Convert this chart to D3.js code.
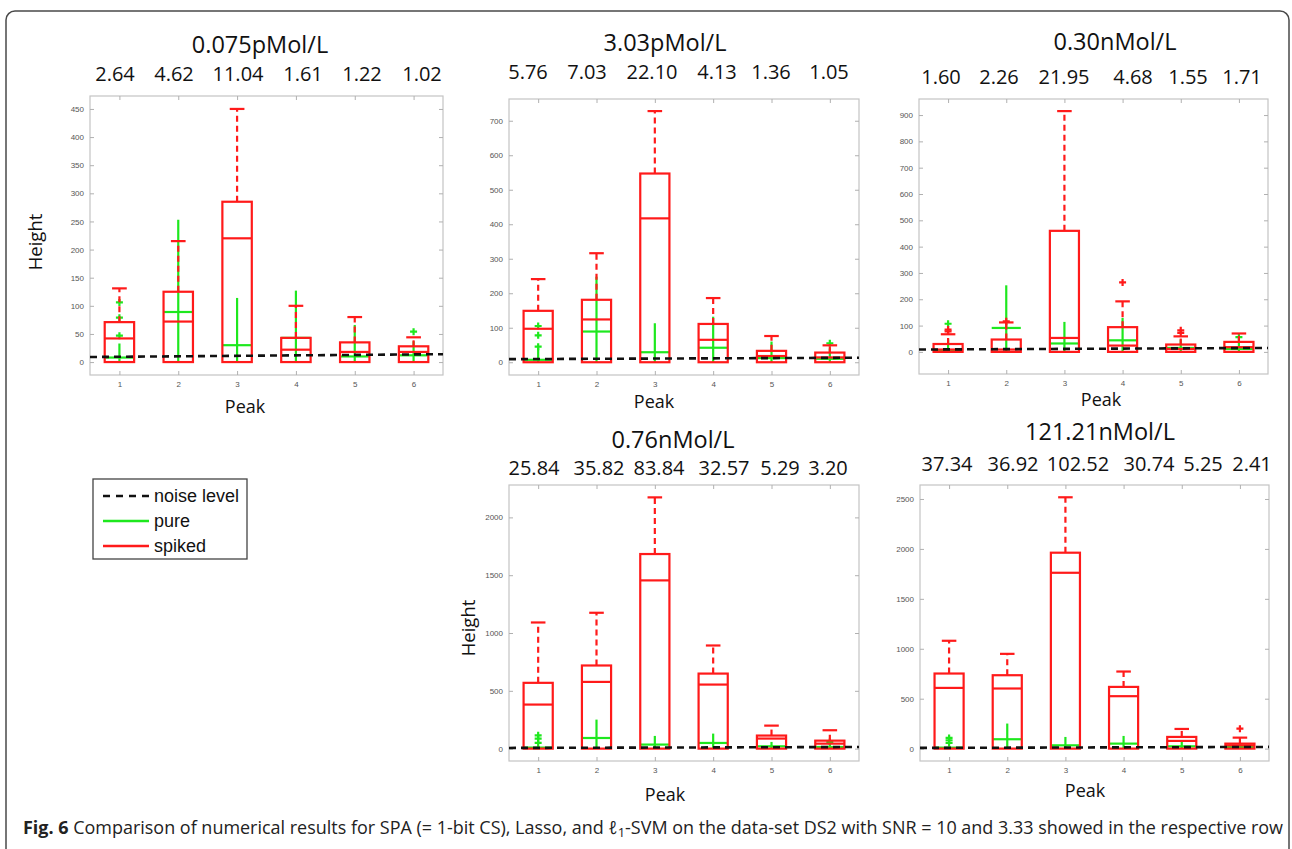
<!DOCTYPE html>
<html lang="en">
<head>
<meta charset="UTF-8">
<title>Fig. 6</title>
<script src="https://cdn.jsdelivr.net/npm/d3@7/dist/d3.min.js"></script>
<style>
  body { margin: 0; background: #fff; }
  svg { display: block; }
</style>
</head>
<body>
<svg id="svg"></svg>
<script>
var WIDTH = 1292;
var HEIGHT = 849;
var RED = "#ff1a1a";
var GREEN = "#1ee81e";

var peaks = [1, 2, 3, 4, 5, 6];

// spiked rows: [q1, median, q3, upper whisker]
// pure rows:   [median, upper whisker]
// outliers:    [peak, value]

// 0.075pMol/L
var titleA = "0.075pMol/L";
var ratiosA = ["2.64", "4.62", "11.04", "1.61", "1.22", "1.02"];
var spikedA = [[0, 42, 71, 131], [0, 72, 125, 215], [0, 220, 285, 450], [0, 22, 43, 100], [0, 18, 35, 80], [0, 18, 28, 44]];
var pureA = [[8, 33], [89, 253], [30, 114], [43, 127], [10, 66], [12, 37]];
var spikedOutA = [];
var pureOutA = [[1, 47], [1, 79], [1, 106], [6, 54]];
var noiseA = [9, 14];

// 3.03pMol/L
var titleB = "3.03pMol/L";
var ratiosB = ["5.76", "7.03", "22.10", "4.13", "1.36", "1.05"];
var spikedB = [[0, 97, 149, 241], [0, 124, 181, 316], [0, 417, 547, 728], [0, 65, 111, 186], [0, 18, 33, 76], [0, 14, 28, 49]];
var pureB = [[7, 41], [89, 248], [29, 113], [42, 132], [12, 60], [10, 40]];
var spikedOutB = [];
var pureOutB = [[1, 45], [1, 78], [1, 105], [6, 55]];
var noiseB = [9, 13];

// 0.30nMol/L
var titleC = "0.30nMol/L";
var ratiosC = ["1.60", "2.26", "21.95", "4.68", "1.55", "1.71"];
var spikedC = [[0, 9, 30, 67], [0, 9, 47, 112], [0, 53, 460, 915], [0, 24, 94, 192], [0, 11, 28, 59], [0, 18, 38, 70]];
var pureC = [[5, 47], [91, 253], [32, 114], [44, 129], [15, 47], [11, 40]];
var spikedOutC = [[1, 78], [1, 85], [2, 116], [4, 264], [5, 72], [5, 82]];
var pureOutC = [[1, 107], [6, 56]];
var noiseC = [9, 15];

// 0.76nMol/L
var titleD = "0.76nMol/L";
var ratiosD = ["25.84", "35.82", "83.84", "32.57", "5.29", "3.20"];
var spikedD = [[0, 381, 569, 1091], [0, 577, 719, 1175], [0, 1455, 1683, 2173], [0, 554, 649, 892], [0, 87, 113, 199], [0, 43, 69, 159]];
var pureD = [[9, 20], [92, 251], [35, 110], [49, 130], [20, 58], [14, 40]];
var spikedOutD = [];
var pureOutD = [[1, 49], [1, 87], [1, 115], [6, 58]];
var noiseD = [6, 14];

// 121.21nMol/L
var titleE = "121.21nMol/L";
var ratiosE = ["37.34", "36.92", "102.52", "30.74", "5.25", "2.41"];
var spikedE = [[0, 608, 752, 1080], [0, 602, 735, 949], [0, 1761, 1962, 2517], [0, 525, 618, 772], [0, 77, 117, 197], [0, 33, 50, 110]];
var pureE = [[10, 20], [94, 251], [33, 117], [50, 127], [23, 67], [17, 40]];
var spikedOutE = [[6, 200]];
var pureOutE = [[1, 57], [1, 84], [1, 107]];
var noiseE = [7, 17];

var legendLabels = ["noise level", "pure", "spiked"];

// panel placement (the ratio row was typed by hand in the original, so its spacing is uneven)
var panels = [
    {title: titleA, ratios: ratiosA, spiked: spikedA, pure: pureA, spikedOut: spikedOutA, pureOut: pureOutA, noise: noiseA,
     yDomain: [-23, 473], yStep: 50, x0: 90, x1: 443, y0: 96, y1: 375,
     titleX: 260, titleY: 45, ratioY: 74, ratioX: [115, 174, 238, 303, 362, 422], peakX: 245, peakY: 407, heightX: 35, heightY: 242},
    {title: titleB, ratios: ratiosB, spiked: spikedB, pure: pureB, spikedOut: spikedOutB, pureOut: pureOutB, noise: noiseB,
     yDomain: [-37, 763], yStep: 100, x0: 509, x1: 859, y0: 99, y1: 375,
     titleX: 665, titleY: 43, ratioY: 72, ratioX: [528, 587, 652, 717, 771, 829], peakX: 654, peakY: 402},
    {title: titleC, ratios: ratiosC, spiked: spikedC, pure: pureC, spikedOut: spikedOutC, pureOut: pureOutC, noise: noiseC,
     yDomain: [-84, 961], yStep: 100, x0: 919, x1: 1268, y0: 99, y1: 374,
     titleX: 1115, titleY: 42, ratioY: 77, ratioX: [941, 999, 1064, 1133, 1188, 1242], peakX: 1101, peakY: 400},
    {title: titleD, ratios: ratiosD, spiked: spikedD, pure: pureD, spikedOut: spikedOutD, pureOut: pureOutD, noise: noiseD,
     yDomain: [-107, 2280], yStep: 500, x0: 509, x1: 859, y0: 485, y1: 761,
     titleX: 673, titleY: 440, ratioY: 468, ratioX: [534, 599, 659, 724, 780, 828], peakX: 665, peakY: 795, heightX: 468, heightY: 628},
    {title: titleE, ratios: ratiosE, spiked: spikedE, pure: pureE, spikedOut: spikedOutE, pureOut: pureOutE, noise: noiseE,
     yDomain: [-124, 2640], yStep: 500, x0: 920, x1: 1269, y0: 485, y1: 761,
     titleX: 1100, titleY: 432, ratioY: 464, ratioX: [947, 1013, 1078, 1149, 1203, 1252], peakX: 1085, peakY: 791}
];

var svg = d3.select("#svg")
            .attr("width", WIDTH)
            .attr("height", HEIGHT);

// outer figure frame (bottom edge runs off the page)
svg.append("rect")
   .attr("x", 6).attr("y", 11)
   .attr("width", 1283).attr("height", 900)
   .attr("rx", 9)
   .attr("fill", "none")
   .attr("stroke", "#4a4a4a")
   .attr("stroke-width", 1.5);

var plus = function(g, x, y, color){
    g.append("path")
     .attr("d", "M" + (x - 3.5) + "," + y + "h7M" + x + "," + (y - 3.5) + "v7")
     .attr("stroke", color)
     .attr("stroke-width", 2.2)
     .attr("fill", "none");
};

var drawPanel = function(p){
    var g = svg.append("g");

    var xScale = d3.scaleLinear().domain([0.5, 6.5]).range([p.x0, p.x1]);
    var yScale = d3.scaleLinear().domain(p.yDomain).range([p.y1, p.y0]);
    var yTicks = d3.range(0, p.yDomain[1], p.yStep);

    // plot box
    g.append("rect")
     .attr("x", p.x0).attr("y", p.y0)
     .attr("width", p.x1 - p.x0).attr("height", p.y1 - p.y0)
     .attr("fill", "none")
     .attr("stroke", "#c4c4c4")
     .attr("stroke-width", 1.2);

    var axes = [
        {axis: d3.axisLeft(yScale).tickValues(yTicks), t: "translate(" + p.x0 + ",0)", labels: true},
        {axis: d3.axisRight(yScale).tickValues(yTicks), t: "translate(" + p.x1 + ",0)", labels: false},
        {axis: d3.axisBottom(xScale).tickValues(peaks), t: "translate(0," + p.y1 + ")", labels: true},
        {axis: d3.axisTop(xScale).tickValues(peaks), t: "translate(0," + p.y0 + ")", labels: false}
    ];
    axes.forEach(function(a){
        var ag = g.append("g")
                  .attr("transform", a.t)
                  .call(a.axis.tickSizeInner(-4).tickSizeOuter(0).tickPadding(6).tickFormat(d3.format("d")));
        ag.select(".domain").remove();
        ag.selectAll(".tick line").attr("stroke", "#b0b0b0");
        ag.selectAll(".tick text")
          .attr("fill", "#555")
          .attr("font-family", "Liberation Sans, Arial, sans-serif")
          .attr("font-size", 8);
        if (!a.labels) ag.selectAll(".tick text").remove();
    });

    var boxW = xScale(1.25) - xScale(1);
    var capW = xScale(1.125) - xScale(1);

    // pure (green) underneath
    p.pure.forEach(function(d, i){
        var cx = xScale(peaks[i]);
        g.append("line")
         .attr("x1", cx).attr("x2", cx)
         .attr("y1", yScale(0)).attr("y2", yScale(d[1]))
         .attr("stroke", GREEN).attr("stroke-width", 2.2);
        g.append("line")
         .attr("x1", cx - boxW).attr("x2", cx + boxW)
         .attr("y1", yScale(d[0])).attr("y2", yScale(d[0]))
         .attr("stroke", GREEN).attr("stroke-width", 2.2);
    });
    p.pureOut.forEach(function(d){
        plus(g, xScale(d[0]), yScale(d[1]), GREEN);
    });

    // spiked (red)
    p.spiked.forEach(function(d, i){
        var cx = xScale(peaks[i]);
        g.append("line")
         .attr("x1", cx).attr("x2", cx)
         .attr("y1", yScale(d[2])).attr("y2", yScale(d[3]))
         .attr("stroke", RED).attr("stroke-width", 2.2)
         .attr("stroke-dasharray", "6,4");
        g.append("line")
         .attr("x1", cx - capW).attr("x2", cx + capW)
         .attr("y1", yScale(d[3])).attr("y2", yScale(d[3]))
         .attr("stroke", RED).attr("stroke-width", 2.2);
        g.append("rect")
         .attr("x", cx - boxW).attr("width", 2 * boxW)
         .attr("y", yScale(d[2])).attr("height", yScale(d[0]) - yScale(d[2]))
         .attr("fill", "none")
         .attr("stroke", RED).attr("stroke-width", 2.2);
        g.append("line")
         .attr("x1", cx - boxW).attr("x2", cx + boxW)
         .attr("y1", yScale(d[1])).attr("y2", yScale(d[1]))
         .attr("stroke", RED).attr("stroke-width", 2.2);
    });
    p.spikedOut.forEach(function(d){
        plus(g, xScale(d[0]), yScale(d[1]), RED);
    });

    // noise level
    g.append("line")
     .attr("x1", xScale(0.5)).attr("x2", xScale(6.5))
     .attr("y1", yScale(p.noise[0])).attr("y2", yScale(p.noise[1]))
     .attr("stroke", "#111").attr("stroke-width", 2.6)
     .attr("stroke-dasharray", "7,5");

    // titles and ratios
    g.append("text")
     .attr("x", p.titleX).attr("y", p.titleY)
     .attr("dy", "0.36em")
     .attr("text-anchor", "middle")
     .attr("font-family", "Open Sans, sans-serif")
     .attr("font-size", 23.5)
     .attr("fill", "#111")
     .text(p.title);

    var rScale = d3.scaleOrdinal().domain(peaks).range(p.ratioX);
    g.selectAll(".ratio")
     .data(p.ratios)
     .enter()
     .append("text")
     .attr("x", function(d, i){ return rScale(peaks[i]); })
     .attr("y", p.ratioY)
     .attr("dy", "0.36em")
     .attr("text-anchor", "middle")
     .attr("font-family", "Open Sans, sans-serif")
     .attr("font-size", 20)
     .attr("fill", "#111")
     .text(function(d){ return d; });

    g.append("text")
     .attr("x", p.peakX).attr("y", p.peakY)
     .attr("dy", "0.36em")
     .attr("text-anchor", "middle")
     .attr("font-family", "Open Sans, sans-serif")
     .attr("font-size", 18)
     .attr("fill", "#111")
     .text("Peak");

    if (p.heightX) {
        g.append("text")
         .attr("transform", "translate(" + p.heightX + "," + p.heightY + ") rotate(-90)")
         .attr("dy", "0.36em")
         .attr("text-anchor", "middle")
         .attr("font-family", "Open Sans, sans-serif")
         .attr("font-size", 18.5)
         .attr("fill", "#111")
         .text("Height");
    }
};

panels.forEach(drawPanel);

// legend
var legend = svg.append("g");
legend.append("rect")
      .attr("x", 93).attr("y", 479)
      .attr("width", 154).attr("height", 80)
      .attr("fill", "#fff")
      .attr("stroke", "#444")
      .attr("stroke-width", 1.3);
var legendStyles = [
    {color: "#111", dash: "7,6"},
    {color: GREEN, dash: null},
    {color: RED, dash: null}
];
var legendY = d3.scalePoint().domain(legendLabels).range([496, 546]);
legendLabels.forEach(function(lab, i){
    legend.append("line")
          .attr("x1", 103).attr("x2", 149)
          .attr("y1", legendY(lab)).attr("y2", legendY(lab))
          .attr("stroke", legendStyles[i].color)
          .attr("stroke-width", 2.6)
          .attr("stroke-dasharray", legendStyles[i].dash);
    legend.append("text")
          .attr("x", 154).attr("y", legendY(lab))
          .attr("dy", "0.33em")
          .attr("font-family", "Liberation Sans, Arial, sans-serif")
          .attr("font-size", 18)
          .attr("fill", "#111")
          .text(lab);
});

// caption
var cap = svg.append("text")
             .attr("x", 23).attr("y", 834)
             .attr("font-family", "Open Sans, sans-serif")
             .attr("font-size", 18)
             .attr("fill", "#222")
             .attr("textLength", 1260)
             .attr("lengthAdjust", "spacingAndGlyphs");
cap.append("tspan").attr("font-weight", "bold").text("Fig. 6 ");
cap.append("tspan").text("Comparison of numerical results for SPA (= 1-bit CS), Lasso, and ");
cap.append("tspan").attr("font-style", "italic").text("\u2113");
cap.append("tspan").attr("font-size", 13).attr("dy", 3).text("1");
cap.append("tspan").attr("dy", -3).text("-SVM on the data-set DS2 with SNR = 10 and 3.33 showed in the respective row");
</script>
</body>
</html>
